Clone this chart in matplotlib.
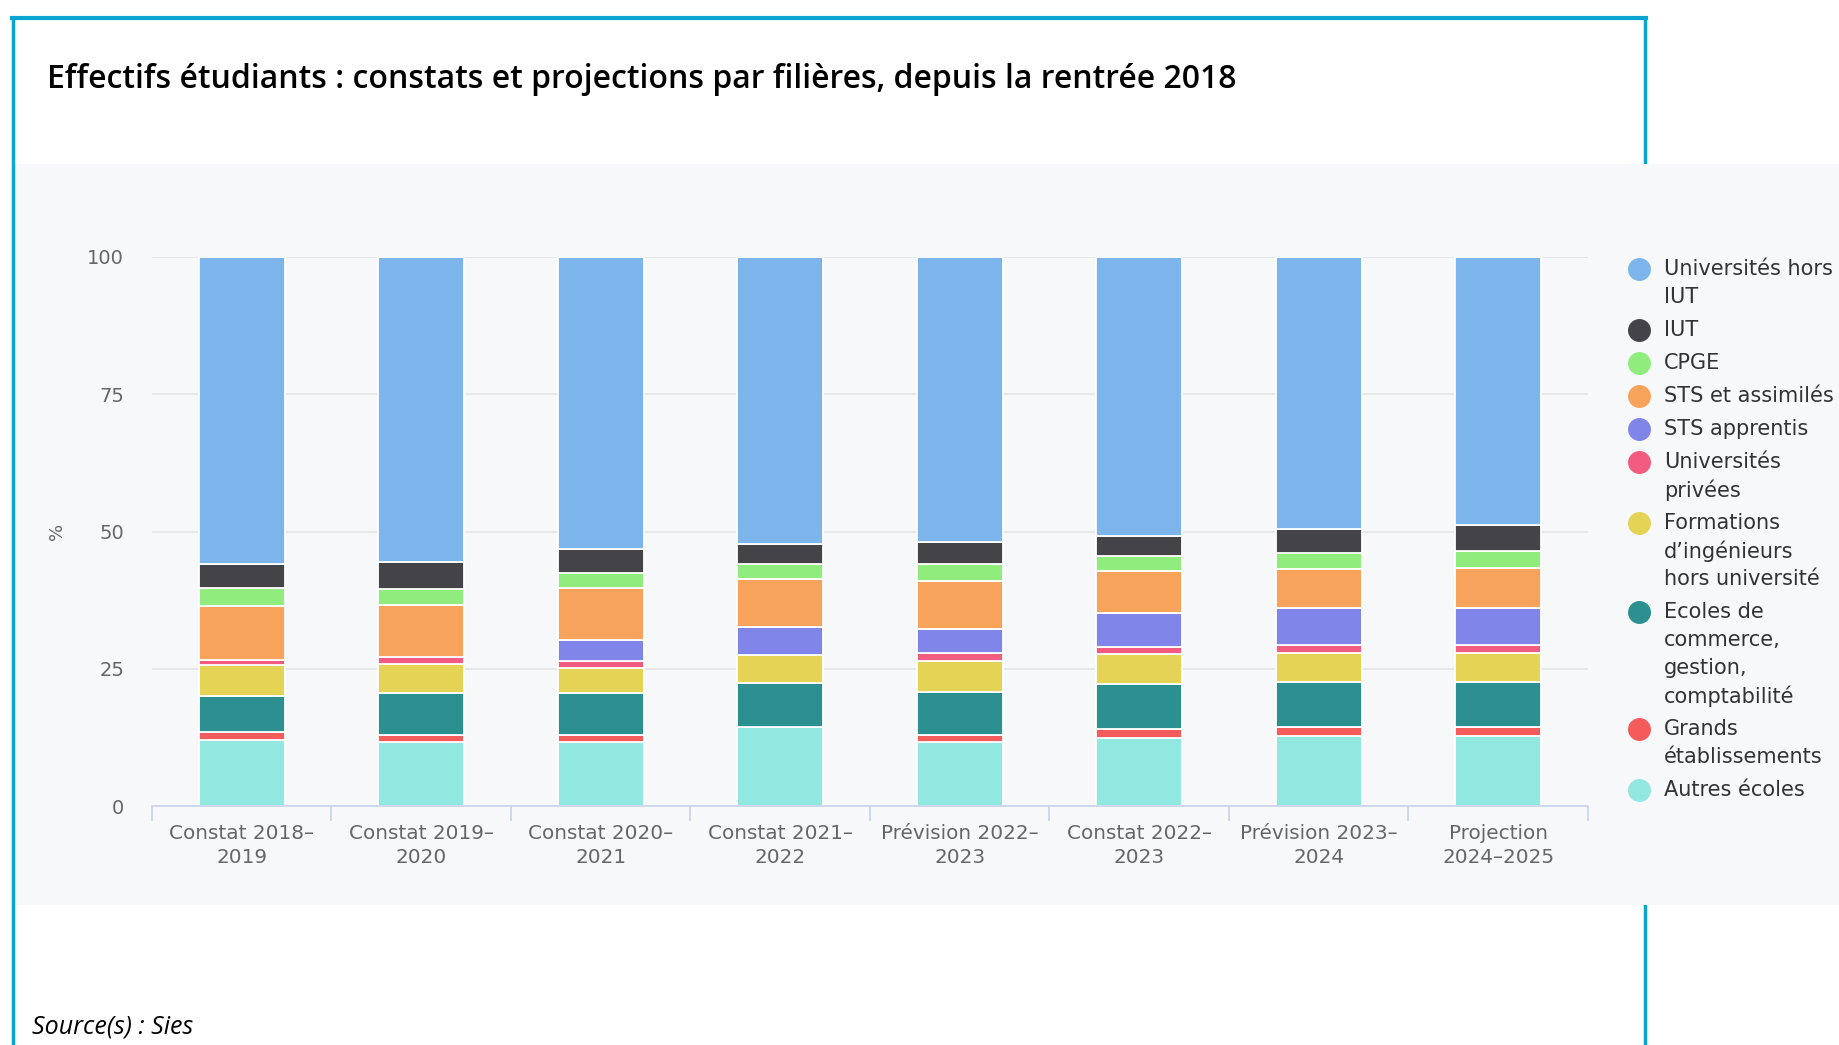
import matplotlib.pyplot as plt
import numpy as np
from matplotlib.patches import Rectangle
from matplotlib.lines import Line2D

# categories (x axis)
categories = ["Constat 2018–\n2019", "Constat 2019–\n2020", "Constat 2020–\n2021",
              "Constat 2021–\n2022", "Prévision 2022–\n2023", "Constat 2022–\n2023",
              "Prévision 2023–\n2024", "Projection\n2024–2025"]

# series, in legend order (first one is stacked on top)
series_labels = ["Universités hors\nIUT", "IUT", "CPGE", "STS et assimilés", "STS apprentis",
                 "Universités\nprivées", "Formations\nd’ingénieurs\nhors université",
                 "Ecoles de\ncommerce,\ngestion,\ncomptabilité", "Grands\nétablissements",
                 "Autres écoles"]
univ = [55.9, 55.6, 53.2, 52.2, 51.9, 50.8, 49.5, 48.8]
iut = [4.4, 4.8, 4.4, 3.8, 4.1, 3.7, 4.4, 4.8]
cpge = [3.3, 3.0, 2.7, 2.6, 3.0, 2.7, 3.0, 3.0]
sts = [9.8, 9.4, 9.5, 8.8, 8.8, 7.7, 7.1, 7.4]
sts_app = [0, 0, 3.7, 5.1, 4.3, 6.1, 6.7, 6.7]
univ_priv = [1.0, 1.3, 1.4, 0, 1.4, 1.4, 1.4, 1.4]
ingenieurs = [5.5, 5.4, 4.6, 5.1, 5.7, 5.4, 5.4, 5.4]
commerce = [6.7, 7.5, 7.5, 8.0, 7.8, 8.2, 8.1, 8.1]
grands = [1.3, 1.3, 1.3, 0, 1.3, 1.7, 1.7, 1.7]
autres = [12.1, 11.7, 11.7, 14.4, 11.7, 12.3, 12.7, 12.7]
series_values = [univ, iut, cpge, sts, sts_app, univ_priv, ingenieurs, commerce, grands, autres]

colors = ['#7cb5ec', '#434348', '#90ed7d', '#f7a35c', '#8085e9',
          '#f15c80', '#e4d354', '#2b908f', '#f45b5b', '#91e8e1']

W, H = 1840, 1045
fig = plt.figure(figsize=(W / 100, H / 100), dpi=100)
fig.patch.set_facecolor('white')

def fx(px):
    return px / W

def fy(py):
    return 1 - py / H

cyan = '#0aa6d0'
# frame lines, grey panel on top of the right one
fig.add_artist(Line2D([fx(12), fx(1646)], [fy(18), fy(18)], color=cyan, lw=3, zorder=-3))
fig.add_artist(Line2D([fx(1645), fx(1645)], [fy(18), fy(1045)], color=cyan, lw=2.5, zorder=-3))
fig.add_artist(Rectangle((fx(15), fy(905)), fx(1840 - 15), (905 - 164) / H,
                         facecolor='#f7f8fa', edgecolor='none', zorder=-2))
fig.add_artist(Line2D([fx(13), fx(13)], [fy(18), fy(1045)], color=cyan, lw=2.5, zorder=-1))

fig.text(fx(47), fy(80), "Effectifs étudiants : constats et projections par filières, depuis la rentrée 2018",
         fontsize=23, family='Open Sans', weight='semibold', color='black', va='center')
fig.text(fx(32), fy(1027), "Source(s) : Sies", fontsize=18, family='Open Sans',
         style='italic', color='black', va='center')

ax = fig.add_axes([fx(152), fy(806), fx(1588 - 152), (806 - 257) / H])
ax.set_facecolor('none')

x = np.arange(len(categories))
bottom = np.zeros(len(categories))
for vals, col in zip(series_values[::-1], colors[::-1]):
    ax.bar(x, vals, 0.48, bottom=bottom, color=col, edgecolor='white', linewidth=1.3, zorder=3)
    bottom += np.array(vals)

ax.set_xlim(-0.5, len(categories) - 0.5)
ax.set_ylim(0, 100)
ax.set_yticks([0, 25, 50, 75, 100])
ax.grid(axis='y', color='#e6e6e6', linewidth=1.3, zorder=0)
for s in ['top', 'right', 'left']:
    ax.spines[s].set_visible(False)
ax.spines['bottom'].set_color('#ccd6eb')
ax.spines['bottom'].set_linewidth(1.3)
ax.spines['bottom'].set_zorder(4)
ax.tick_params(axis='y', length=0, pad=20, labelsize=14, labelcolor='#666666')
ax.set_xticks(x)
ax.set_xticklabels(categories, fontsize=14.4, color='#666666', linespacing=1.36)
ax.tick_params(axis='x', which='major', length=0, pad=13)
ax.set_xticks(np.arange(-0.5, len(categories)), minor=True)
ax.tick_params(axis='x', which='minor', length=11, color='#ccd6eb', width=1.3)
ax.set_ylabel('%', fontsize=13, color='#666666', labelpad=0)
ax.yaxis.set_label_coords(-(152 - 66) / (1588 - 152), 0.5)

# legend drawn by hand, one circle per series
ly = 269
for lab, col in zip(series_labels, colors):
    fig.add_artist(Line2D([fx(1639)], [fy(ly)], marker='o', markersize=15.5,
                          color=col, linestyle='none'))
    lines = lab.split('\n')
    for i, line in enumerate(lines):
        fig.text(fx(1664), fy(ly + 28 * i), line, fontsize=15, color='#333333', va='center')
    ly += 28 * (len(lines) - 1) + 33

fig.savefig('out.png', dpi=100)
